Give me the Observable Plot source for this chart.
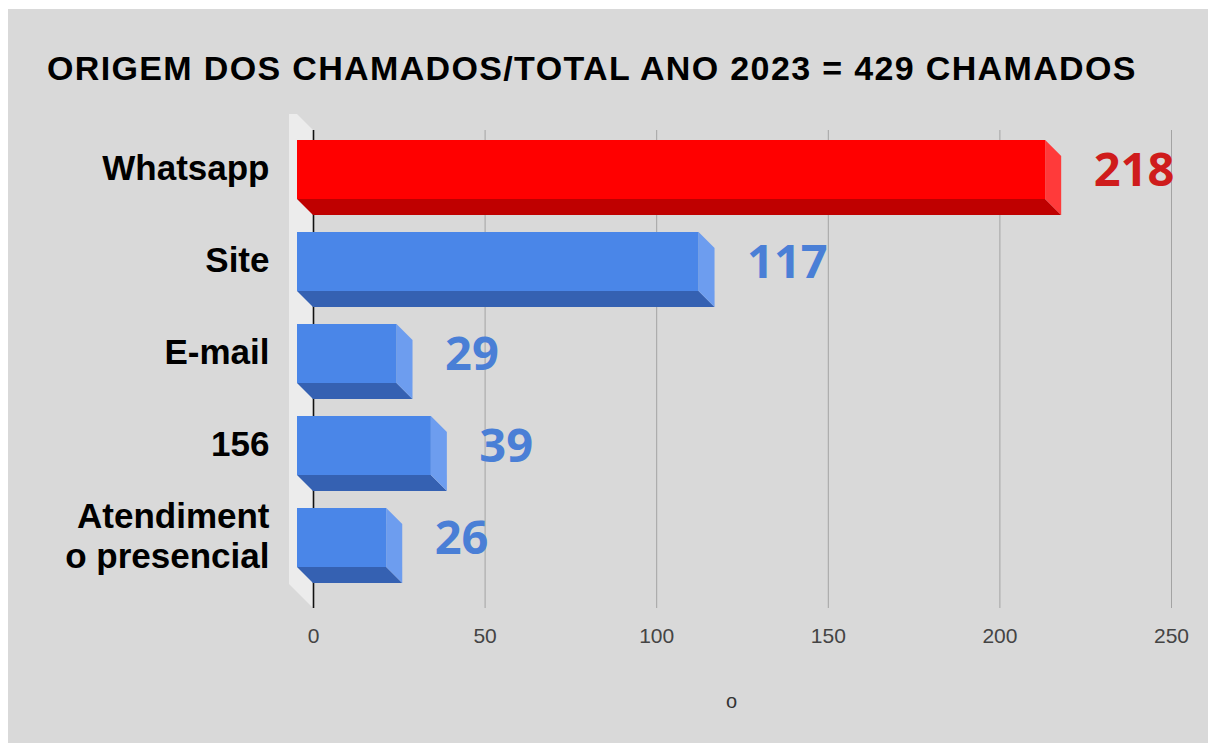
<!DOCTYPE html>
<html><head><meta charset="utf-8">
<script src="https://cdn.jsdelivr.net/npm/d3@7"></script>
<script src="https://cdn.jsdelivr.net/npm/@observablehq/plot@0.6"></script>
<style>
html,body{margin:0;padding:0;background:#fff;overflow:hidden;width:1208px;height:743px;}
#wrap{position:absolute;left:8px;top:9px;width:1200px;height:734px;background:#d9d9d9;}
#chart{position:absolute;left:0;top:0;}
#title{position:absolute;left:39px;top:42px;font:bold 34px/34px "Liberation Sans",Arial,sans-serif;letter-spacing:1.35px;color:#000;white-space:nowrap;}
</style></head>
<body>
<div id="wrap"><div id="chart"></div><div id="title"></div></div>
<script>
// ---- data ----
const titleText = "ORIGEM DOS CHAMADOS/TOTAL ANO 2023 = 429 CHAMADOS";
const categories = ["Whatsapp", "Site", "E-mail", "156", "Atendiment\no presencial"];
const values = [218, 117, 29, 39, 26];
const xTicks = [0, 50, 100, 150, 200, 250];
const xTickLabels = ["0", "50", "100", "150", "200", "250"];
const axisTitle = "o";

const rows = categories.map((c, i) => ({cat: c, value: values[i]}));
const maxV = d3.max(values);
const pal = {
  top:   {front: "#ff0000", side: "#ff3a3a", bottom: "#bf0000", label: "#cf1c1c"},
  other: {front: "#4a86e8", side: "#6d9def", bottom: "#3561b2", label: "#4a7fd6"}
};
const paletteOf = d => d.value === maxV ? pal.top : pal.other;
const D = 16; // 3D depth in px

document.getElementById("title").textContent = titleText;

function wallRender(index, scales, values, dims) {
  const x0 = scales.x(0);
  const top = dims.marginTop, bot = dims.height - dims.marginBottom;
  const g = d3.create("svg:g");
  g.append("polygon")
    .attr("points", [[x0, top], [x0 - D, top - D], [x0 - 24, top - D], [x0 - 24, bot - 24], [x0, bot]].map(p => p.join(",")).join(" "))
    .attr("fill", "#ececec");
  return g.node();
}

function extrusionRender(index, scales) {
  const {x, y} = scales;
  const bw = y.bandwidth();
  const g = d3.create("svg:g");
  for (const i of index) {
    const d = rows[i], p = paletteOf(d);
    const xb0 = x(0), xb1 = x(d.value), yb0 = y(d.cat), yb1 = yb0 + bw;
    const fx0 = xb0 - D, fx1 = xb1 - D, fy0 = yb0 - D, fy1 = yb1 - D;
    g.append("polygon")
      .attr("points", [[fx0, fy1], [fx1, fy1], [xb1, yb1], [xb0, yb1]].map(q => q.join(",")).join(" "))
      .attr("fill", p.bottom);
    g.append("polygon")
      .attr("points", [[fx1, fy0], [xb1, yb0], [xb1, yb1], [fx1, fy1]].map(q => q.join(",")).join(" "))
      .attr("fill", p.side);
  }
  return g.node();
}

const chart = Plot.plot({
  width: 1200,
  height: 734,
  marginLeft: 305,
  marginRight: 37,
  marginTop: 121,
  marginBottom: 135,
  style: {background: "transparent", fontFamily: "'Liberation Sans', Arial, sans-serif"},
  x: {domain: [0, 250], axis: null},
  y: {domain: categories, axis: null, paddingInner: 0.36, paddingOuter: 0.25},
  marks: [
    Plot.ruleX([0], {render: wallRender}),
    Plot.ruleX(xTicks.slice(1), {stroke: "#a3a3a3", strokeWidth: 1}),
    Plot.ruleX([0], {stroke: "#111", strokeWidth: 1.6}),
    Plot.barX(rows, {x: "value", y: "cat", render: extrusionRender}),
    Plot.barX(rows, {x: "value", y: "cat", fill: d => paletteOf(d).front, dx: -D, dy: -D}),
    Plot.text(rows, {
      y: "cat", text: "cat", frameAnchor: "left", textAnchor: "end",
      dx: -44, dy: -19, fontSize: 35, fontWeight: "bold", fill: "#000",
      lineHeight: 1.15, letterSpacing: 1.6
    }),
    Plot.text(rows, {
      x: "value", y: "cat", text: d => String(d.value), textAnchor: "start",
      dx: 32, dy: -15, fontSize: 47, fontWeight: "bold",
      fontFamily: "'Open Sans', sans-serif", fill: d => paletteOf(d).label
    }),
    Plot.text(xTicks, {
      x: d => d, frameAnchor: "bottom", dy: 34,
      text: (d, i) => xTickLabels[i], fontSize: 21, fill: "#444"
    }),
    Plot.text([axisTitle], {
      frameAnchor: "bottom", dx: -11, dy: 99, text: d => d, fontSize: 20, fill: "#333"
    })
  ]
});
document.getElementById("chart").appendChild(chart);
</script>
</body></html>
